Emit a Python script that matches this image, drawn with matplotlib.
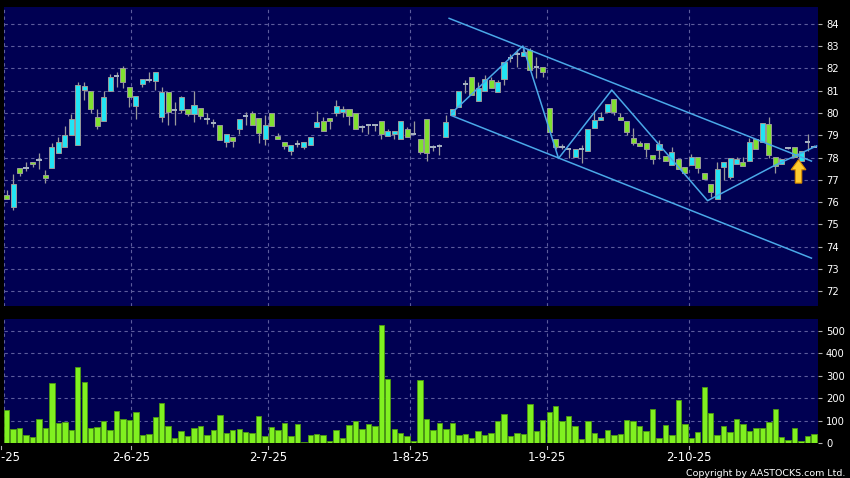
import numpy as np
import matplotlib
matplotlib.use("Agg")
import matplotlib.pyplot as plt
from matplotlib.patches import FancyArrow

# daily OHLC, candle index 1..126
opens = [76.31, 75.78, 77.51, 77.54, 77.82, 77.91, 77.21, 77.51, 78.18, 78.48,
         79.00, 78.55, 81.02, 81.00, 79.83, 79.63, 80.98, 81.65, 82.00, 81.17,
         80.32, 81.28, 81.47, 81.43, 79.80, 80.92, 80.13, 80.13, 80.16, 79.95,
         80.23, 79.75, 79.53, 79.48, 78.70, 78.90, 79.26, 79.86, 80.02, 79.78,
         78.81, 80.02, 78.97, 78.70, 78.30, 78.60, 78.48, 78.58, 79.38, 79.65,
         79.78, 80.01, 80.05, 80.20, 80.02, 79.35, 79.48, 79.48, 79.63, 78.97,
         79.05, 78.81, 79.26, 79.05, 78.82, 79.72, 78.46, 78.53, 78.91, 79.91,
         80.26, 81.29, 81.63, 80.54, 80.99, 81.48, 80.93, 81.53, 82.46, 82.64,
         82.58, 82.83, 82.05, 82.05, 80.21, 78.82, 78.49, 78.38, 78.01, 78.38,
         78.31, 79.31, 79.69, 80.03, 80.61, 79.80, 79.65, 78.86, 78.63, 78.63,
         78.11, 78.33, 78.07, 77.66, 77.92, 77.56, 77.66, 78.01, 77.32, 76.81,
         76.13, 77.56, 77.14, 77.71, 77.81, 77.84, 78.81, 78.71, 79.49, 78.01,
         77.71, 78.44, 78.48, 77.84, 78.71, 78.48]
highs = [76.53, 77.28, 77.51, 77.81, 77.82, 78.18, 77.43, 78.63, 78.93, 79.41,
         79.95, 81.40, 81.40, 81.00, 80.20, 81.00, 81.77, 81.85, 82.10, 81.17,
         80.77, 81.53, 81.85, 81.82, 81.17, 80.92, 80.50, 80.75, 80.16, 81.00,
         80.23, 80.02, 79.75, 79.48, 79.06, 78.90, 79.71, 80.05, 80.10, 79.78,
         79.90, 80.02, 79.08, 78.70, 78.58, 78.78, 78.70, 78.93, 80.08, 79.80,
         79.78, 80.58, 80.31, 80.20, 80.02, 79.45, 79.48, 79.48, 79.63, 79.30,
         79.18, 79.63, 79.38, 79.63, 78.82, 79.72, 78.56, 78.59, 79.91, 80.17,
         80.99, 81.48, 81.63, 81.41, 81.71, 81.63, 81.48, 82.31, 82.65, 82.86,
         82.98, 82.91, 82.50, 82.05, 80.21, 78.82, 78.61, 78.38, 78.38, 78.56,
         79.27, 80.06, 80.06, 80.41, 80.61, 79.98, 79.65, 79.31, 78.74, 78.63,
         78.11, 78.78, 78.07, 78.48, 77.92, 77.56, 78.16, 78.01, 77.32, 76.81,
         77.81, 77.81, 77.96, 78.01, 78.01, 78.86, 78.81, 79.53, 79.80, 78.01,
         77.92, 78.48, 78.48, 78.29, 79.05, 78.56]
lows = [76.14, 75.64, 77.18, 77.40, 77.58, 77.48, 76.86, 77.51, 78.18, 78.48,
        79.00, 78.55, 80.58, 80.01, 79.30, 79.63, 80.98, 81.17, 81.10, 80.28,
        79.75, 81.17, 81.40, 81.05, 79.60, 79.48, 79.48, 79.98, 79.86, 79.60,
        79.75, 79.52, 79.35, 78.78, 78.48, 78.48, 79.05, 79.45, 79.45, 78.63,
        78.58, 79.41, 78.81, 78.40, 78.11, 78.45, 78.36, 78.58, 79.38, 79.20,
        79.26, 79.86, 79.80, 79.45, 79.30, 79.15, 79.05, 79.20, 78.82, 78.97,
        78.81, 78.81, 78.93, 79.05, 78.16, 77.86, 78.31, 78.11, 78.91, 79.91,
        80.26, 80.88, 80.81, 80.54, 80.99, 81.11, 80.93, 81.26, 82.31, 82.08,
        82.58, 81.93, 81.56, 81.63, 79.16, 78.37, 78.40, 77.96, 78.01, 77.74,
        78.31, 79.31, 79.69, 80.03, 79.91, 79.68, 79.01, 78.56, 78.51, 78.03,
        77.71, 77.93, 77.86, 77.66, 77.47, 77.29, 77.66, 77.32, 77.03, 76.24,
        76.13, 76.99, 77.02, 77.71, 77.62, 77.84, 78.36, 78.71, 77.96, 77.29,
        77.71, 78.40, 78.01, 77.84, 78.30, 78.48]
closes = [76.14, 76.83, 77.31, 77.54, 77.73, 77.91, 77.10, 78.45, 78.70, 79.03,
          79.75, 81.25, 81.20, 80.16, 79.41, 80.70, 81.62, 81.65, 81.40, 80.70,
          80.77, 81.53, 81.47, 81.82, 80.92, 80.05, 80.13, 80.70, 79.95, 80.34,
          79.87, 79.75, 79.53, 78.78, 79.06, 78.75, 79.71, 79.86, 79.45, 79.08,
          79.48, 79.41, 78.81, 78.51, 78.58, 78.60, 78.70, 78.93, 79.60, 79.20,
          79.65, 80.31, 80.16, 79.87, 79.30, 79.35, 79.48, 79.48, 79.05, 79.18,
          79.18, 79.63, 78.93, 79.05, 78.26, 78.19, 78.46, 78.53, 79.61, 80.17,
          80.99, 81.29, 80.81, 81.11, 81.51, 81.11, 81.38, 82.31, 82.46, 82.64,
          82.73, 81.93, 82.05, 81.86, 79.16, 78.49, 78.49, 78.38, 78.38, 78.38,
          79.27, 79.69, 79.81, 80.41, 80.06, 79.68, 79.16, 78.63, 78.51, 78.38,
          77.92, 78.59, 77.86, 78.26, 77.47, 77.29, 78.01, 77.51, 77.03, 76.43,
          77.47, 77.81, 77.96, 77.92, 77.62, 78.71, 78.36, 79.53, 78.11, 77.62,
          77.92, 78.44, 78.01, 78.29, 78.71, 78.48]
volumes = [148, 62, 67, 37, 27, 108, 67, 270, 92, 96,
           58, 340, 272, 67, 74, 99, 59, 144, 108, 104,
           139, 37, 40, 116, 178, 79, 25, 56, 34, 67,
           79, 37, 59, 126, 45, 59, 62, 50, 45, 123,
           33, 73, 59, 90, 33, 86, 7, 36, 42, 39,
           12, 58, 24, 83, 98, 64, 85, 77, 527, 288,
           64, 45, 34, 9, 282, 108, 58, 89, 62, 90,
           36, 42, 24, 53, 37, 45, 99, 129, 33, 47,
           42, 174, 53, 104, 141, 168, 99, 120, 79, 19,
           99, 47, 25, 61, 36, 42, 104, 99, 77, 56,
           151, 25, 80, 37, 193, 85, 25, 50, 252, 135,
           37, 77, 50, 110, 86, 56, 67, 68, 93, 153,
           28, 15, 67, 10, 34, 40]

date_labels = ["2-5-25", "2-6-25", "2-7-25", "1-8-25", "1-9-25", "2-10-25"]
date_pos = [0.12, 20.3, 41.45, 63.52, 84.67, 106.65]

# drawn trend lines (index, price)
upper_line_x = [69.5, 125.6]
upper_line_y = [84.25, 77.84]
lower_line_x = [69.9, 125.6]
lower_line_y = [79.88, 73.48]
zigzag_x = [69.9, 80.92, 86.44, 94.68, 109.52, 119.74, 126.4]
zigzag_y = [80.0, 83.01, 77.96, 81.03, 76.06, 77.62, 78.52]

o = np.array(opens); h = np.array(highs); l = np.array(lows); c = np.array(closes)
x = np.arange(1, len(o) + 1)

navy = '#000052'
gridc = '#5c5c9c'
cyan = '#22e4f4'
green = '#80e030'

fig = plt.figure(figsize=(8.5, 4.78), dpi=100, facecolor='black')
ax = fig.add_axes([4/850, 172/478, 813.7/850, 299/478])
axv = fig.add_axes([4/850, 34.7/478, 813.7/850, 124.8/478])

for a in (ax, axv):
    a.set_facecolor(navy)
    for s in a.spines.values():
        s.set_visible(False)
    a.set_xlim(0.58, 126.57)
    for gx in [0.63] + date_pos[1:]:
        a.axvline(gx, color=gridc, lw=0.8, ls=(0, (3, 3)), zorder=0)
    a.yaxis.tick_right()
    a.tick_params(axis='y', colors='#b0b0b0', labelcolor='white', length=3, width=0.8,
                  pad=3, labelsize=7.2)
    a.set_xticks([])

# price panel
ax.set_ylim(71.33, 84.76)
ax.set_yticks(range(72, 85))
for gy in range(72, 85):
    ax.axhline(gy, color=gridc, lw=0.8, ls=(0, (3, 3)), zorder=0)

up = c > o
dn = c < o
doji = c == o
ax.vlines(x, l, h, color='#9a9a9a', lw=0.9, zorder=2)
ax.bar(x[up], (c - o)[up], bottom=o[up], width=0.78, color=cyan,
       edgecolor='#9a9a9a', linewidth=0.7, zorder=3)
ax.bar(x[dn], (o - c)[dn], bottom=c[dn], width=0.78, color=green,
       edgecolor='#9a9a9a', linewidth=0.7, zorder=3)
ax.hlines(c[doji], x[doji] - 0.42, x[doji] + 0.42, color='#a8b4c4', lw=1.4, zorder=3)

lc = '#4aa8e8'
ax.plot(upper_line_x, upper_line_y, color=lc, lw=1.1, zorder=4)
ax.plot(lower_line_x, lower_line_y, color=lc, lw=1.1, zorder=4)
ax.plot(zigzag_x, zigzag_y, color=lc, lw=1.1, zorder=4)

ax.add_patch(FancyArrow(123.6, 76.85, 0, 1.05, width=1.0, head_width=2.3,
                        head_length=0.45, length_includes_head=True,
                        facecolor='#ffcc30', edgecolor='#d88a00', lw=0.8, zorder=5))

# volume panel
axv.set_ylim(0, 555.6)
axv.set_yticks(range(0, 501, 100))
for gy in range(100, 501, 100):
    axv.axhline(gy, color=gridc, lw=0.8, ls=(0, (3, 3)), zorder=0)
axv.bar(x, volumes, width=0.84, color='#80f020', edgecolor='#4c9a10', linewidth=0.6, zorder=3)

for lab, pos in zip(date_labels, date_pos):
    axv.plot([pos, pos], [-0.025, -0.045], transform=axv.get_xaxis_transform(),
             color='#b0b0b0', lw=0.8, clip_on=False)
    axv.text(pos, -0.065, lab, transform=axv.get_xaxis_transform(), ha='center',
             va='top', color='white', fontsize=8.4, clip_on=False)

fig.text(845/850, 2.5/478, 'Copyright by AASTOCKS.com Ltd.', ha='right', va='baseline',
         color='white', fontsize=6.8)

fig.savefig('out.png', dpi=100, facecolor='black')
